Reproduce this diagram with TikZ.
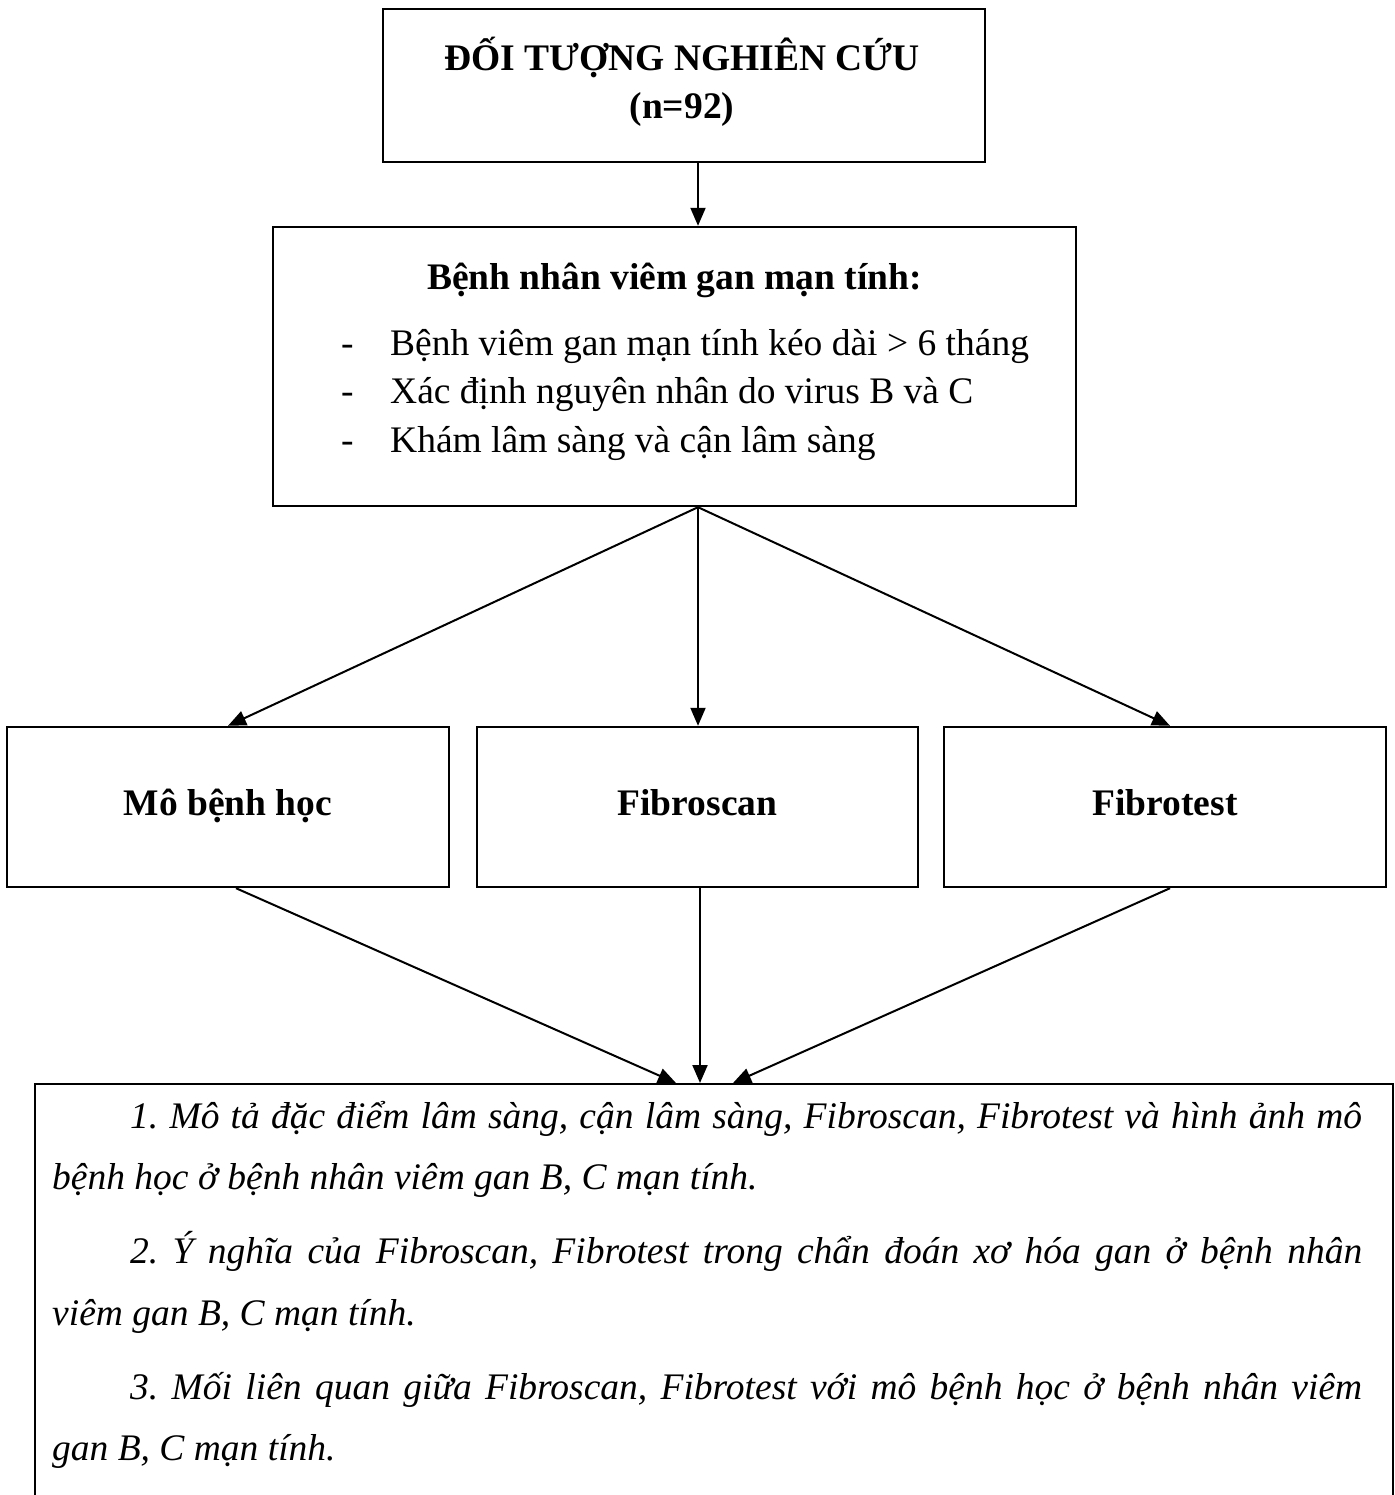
\documentclass[tikz,border=0pt]{standalone}
\usepackage{fontspec}
\setmainfont{Liberation Serif}
\usetikzlibrary{arrows.meta,calc}
\begin{document}
\frenchspacing
\begin{tikzpicture}[x=1pt,y=-1pt,
  box/.style={draw, line width=2.4pt, inner sep=0pt, rectangle},
  arr/.style={line width=2pt, -{Triangle[length=18pt,width=15pt]}},
  txt/.style={inner sep=0pt, font=\fontsize{37.5}{48}\selectfont}]
\useasboundingbox[fill=white] (0,0) rectangle (1394,1495);
% top box
\node[box, minimum width=602, minimum height=153] (top) at (684,85.5) {};
\node[txt, anchor=base, font=\fontsize{37.5}{48}\selectfont\bfseries] (toptxt1) at (682,71) {ĐỐI TƯỢNG NGHIÊN CỨU};
\node[txt, anchor=base, font=\fontsize{37.5}{48}\selectfont\bfseries] (toptxt2) at (682,119) {(n=92)};
% patients box
\node[box, minimum width=803, minimum height=279] (pt) at (674.5,366.5) {};
\node[txt, anchor=base, font=\fontsize{37.5}{48}\selectfont\bfseries] (pttitle) at (674.5,290) {Bệnh nhân viêm gan mạn tính:};
\node[txt, anchor=base west] (d1) at (341,355) {-};
\node[txt, anchor=base west] (d2) at (341,403) {-};
\node[txt, anchor=base west] (d3) at (341,452) {-};
\node[txt, anchor=base west] (b1) at (390,355) {Bệnh viêm gan mạn tính kéo dài > 6 tháng};
\node[txt, anchor=base west] (b2) at (390,403) {Xác định nguyên nhân do virus B và C};
\node[txt, anchor=base west] (b3) at (390,452) {Khám lâm sàng và cận lâm sàng};
% three boxes
\node[box, minimum width=442, minimum height=160] (mo) at (228,807) {};
\node[box, minimum width=441, minimum height=160] (fs) at (697.5,807) {};
\node[box, minimum width=442, minimum height=160] (ft) at (1165,807) {};
\node[txt, anchor=base, font=\fontsize{37.5}{48}\selectfont\bfseries] (motxt) at (228,815) {Mô bệnh học};
\node[txt, anchor=base, font=\fontsize{37.5}{48}\selectfont\bfseries] (fstxt) at (697.5,815) {Fibroscan};
\node[txt, anchor=base, font=\fontsize{37.5}{48}\selectfont\bfseries] (fttxt) at (1165,815) {Fibrotest};
% result box (continues below the page)
\node[box, anchor=north west, minimum width=1358, minimum height=460] (res) at (34,1083) {};
\node[txt, anchor=north west, text width=1310, align=justify,
      font=\fontsize{37.5}{61.5}\selectfont\itshape] (restxt) at (52,1101) {%
\setlength{\parskip}{12.5pt}%
\hspace*{78pt}1. Mô tả đặc điểm lâm sàng, cận lâm sàng, Fibroscan, Fibrotest và hình ảnh mô\linebreak
bệnh học ở bệnh nhân viêm gan B, C mạn tính.\par
\hspace*{78pt}2. Ý nghĩa của Fibroscan, Fibrotest trong chẩn đoán xơ hóa gan ở bệnh nhân\linebreak
viêm gan B, C mạn tính.\par
\hspace*{78pt}3. Mối liên quan giữa Fibroscan, Fibrotest với mô bệnh học ở bệnh nhân viêm\linebreak
gan B, C mạn tính.\par};
% connectors
\draw[arr] (top.south -| 698,0) -- (pt.north -| 698,0);
\draw[arr] (pt.south -| 698,0) -- ([xshift=0pt]mo.north);
\draw[arr] (pt.south -| 698,0) -- (fs.north -| 698,0);
\draw[arr] (pt.south -| 698,0) -- ([xshift=5pt]ft.north);
\draw[arr] ([xshift=8pt]mo.south) -- (res.north -| 676,0);
\draw[arr] (fs.south -| 700,0) -- (res.north -| 700,0);
\draw[arr] ([xshift=5pt]ft.south) -- (res.north -| 733,0);
\end{tikzpicture}
\end{document}
